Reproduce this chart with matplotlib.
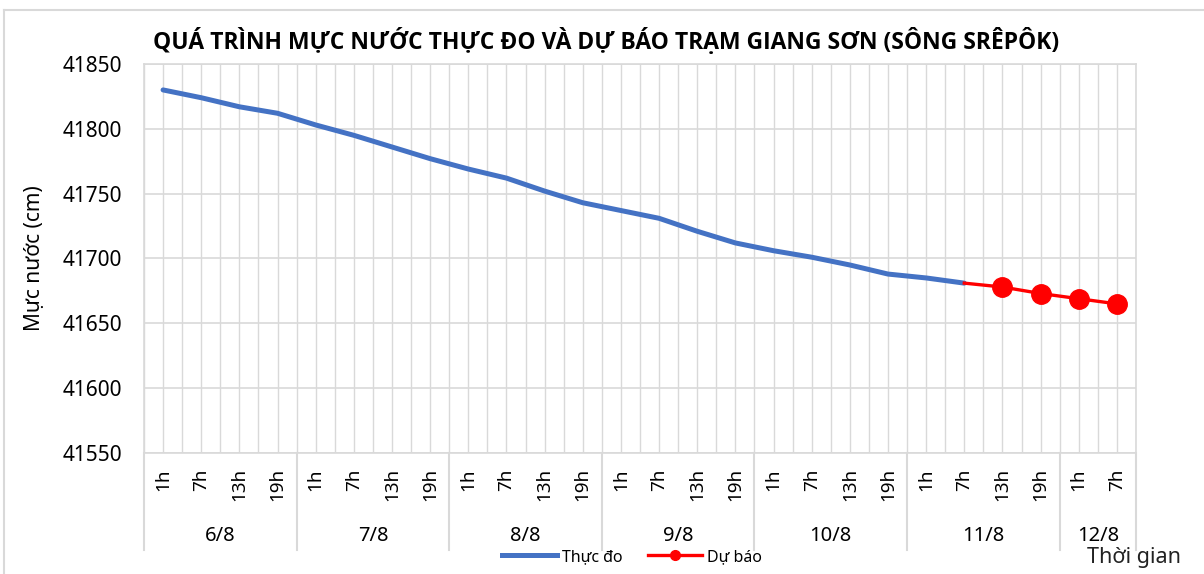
import matplotlib.pyplot as plt
from matplotlib.lines import Line2D
import matplotlib.transforms as mtransforms
import numpy as np

# du lieu muc nuoc tram Giang Son
hours = ["1h", "7h", "13h", "19h"] * 6 + ["1h", "7h"]
days = ["6/8", "7/8", "8/8", "9/8", "10/8", "11/8", "12/8"]
day_sizes = [4, 4, 4, 4, 4, 4, 2]

thuc_do = [41830, 41824, 41817, 41812, 41803, 41795, 41786, 41777, 41769, 41762,
           41752, 41743, 41737, 41731, 41721, 41712, 41706, 41701, 41695, 41688,
           41685, 41681]
du_bao = [41681, 41678, 41673, 41669, 41665]

plt.rcParams['font.family'] = ['Noto Sans', 'DejaVu Sans']
grid_col = "#d9d9d9"

fig = plt.figure(figsize=(12.04, 5.74), dpi=100)
ax = fig.add_axes([144 / 1204, 1 - 453 / 574, (1136 - 144) / 1204, (453 - 64) / 574])

n = len(hours)
x_obs = np.arange(len(thuc_do))
x_fc = np.arange(len(thuc_do) - 1, len(thuc_do) - 1 + len(du_bao))

ax.plot(x_obs, thuc_do, color="#4472C4", lw=3.6, solid_capstyle="round",
        solid_joinstyle="round", zorder=3)
ax.plot(x_fc, du_bao, color="#FF0000", lw=2.4, marker="o", markersize=14,
        markevery=[1, 2, 3, 4], zorder=4)

ax.set_xlim(-0.5, n - 0.5)
ax.set_ylim(41550, 41850)
ax.set_yticks(np.arange(41550, 41851, 50))
ax.set_xticks(np.arange(n))
ax.set_xticks(np.arange(n + 1) - 0.5, minor=True)
ax.set_xticklabels(hours, rotation=90)
ax.tick_params(axis="x", which="both", length=0, pad=11, labelsize=13.5)
ax.tick_params(axis="y", length=0, pad=16, labelsize=15)
ax.grid(True, which="both", axis="x", color=grid_col, lw=1)
ax.grid(True, which="major", axis="y", color=grid_col, lw=1.2)
ax.set_axisbelow(True)
for s in ax.spines.values():
    s.set_color(grid_col)
    s.set_linewidth(1.2)

ax.set_ylabel("Mực nước (cm)", fontsize=15, labelpad=12)

# nhom ngay duoi truc
trans = mtransforms.blended_transform_factory(ax.transData, ax.transAxes)
start = -0.5
bounds = [start]
for d, sz in zip(days, day_sizes):
    ax.text(start + sz / 2, -0.213, d, transform=trans, ha="center", va="center",
            fontsize=14.5)
    start += sz
    bounds.append(start)
for b in bounds:
    ax.plot([b, b], [0, -0.25], transform=trans, color=grid_col, lw=1.5, clip_on=False)

fig.text(0.503, 1 - 42 / 574, "QUÁ TRÌNH MỰC NƯỚC THỰC ĐO VÀ DỰ BÁO TRẠM GIANG SƠN (SÔNG SRÊPÔK)",
         ha="center", va="center", fontsize=16.5, fontweight="bold",
         family=["Open Sans", "DejaVu Sans"])
fig.text(1134 / 1204, 1 - 558 / 574, "Thời gian", ha="center", va="center", fontsize=15.5,
         color="#222222")

handles = [Line2D([], [], color="#4472C4", lw=3.6),
           Line2D([], [], color="#FF0000", lw=2.4, marker="o", markersize=7)]
fig.legend(handles, ["Thực đo", "Dự báo"], loc="center", bbox_to_anchor=(0.525, 1 - 557 / 574),
           ncol=2, frameon=False, fontsize=11.5, handlelength=3.4, columnspacing=1.6,
           handletextpad=0.3, numpoints=1)

# khung bieu do
fig.add_artist(plt.Line2D([4 / 1204, 1], [1 - 10 / 574, 1 - 10 / 574], color=grid_col, lw=1.5,
                          transform=fig.transFigure))
fig.add_artist(plt.Line2D([4 / 1204, 4 / 1204], [0, 1 - 10 / 574], color=grid_col, lw=1.5,
                          transform=fig.transFigure))

fig.savefig("out.png", dpi=100)
